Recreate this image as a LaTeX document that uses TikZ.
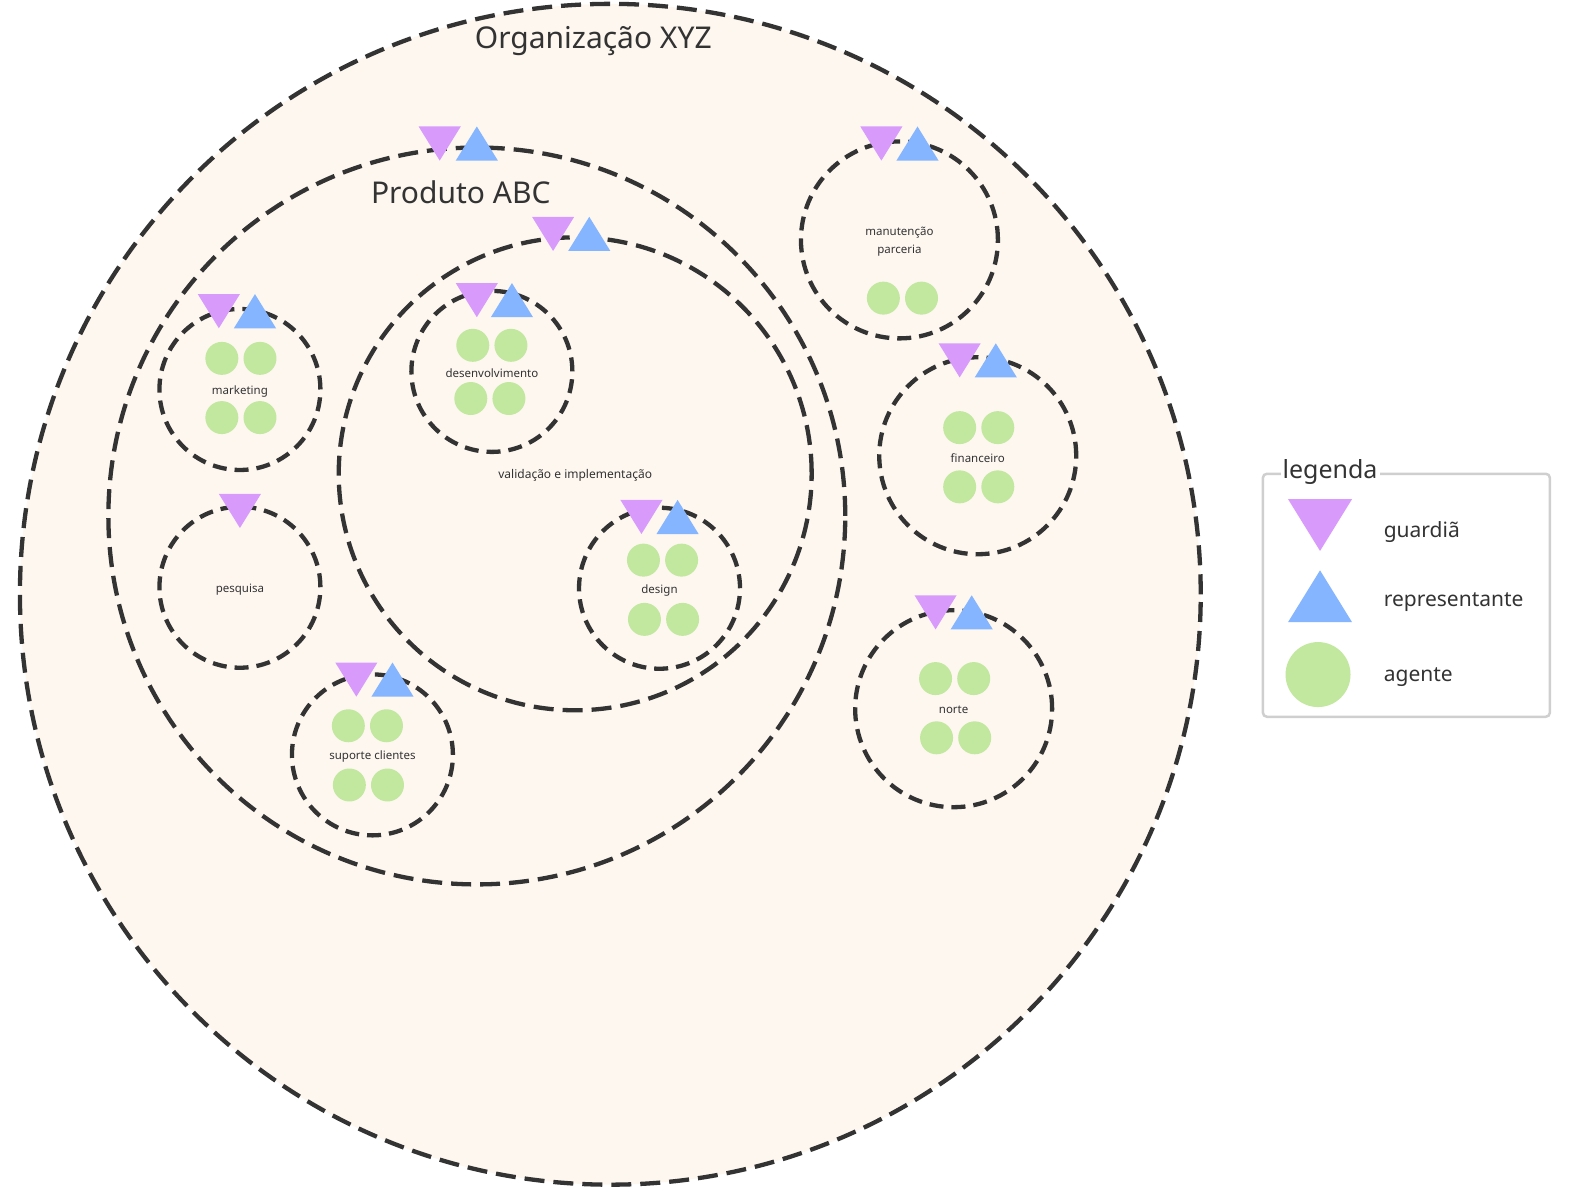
\documentclass[tikz,border=0pt]{standalone}
\usepackage{fontspec}
\setmainfont{Noto Sans}
\usetikzlibrary{positioning}
\definecolor{linec}{HTML}{333333}
\definecolor{bgc}{HTML}{FDF7F0}
\definecolor{guardc}{HTML}{D89BFC}
\definecolor{repc}{HTML}{85B5FF}
\definecolor{agc}{HTML}{C2E89F}
\definecolor{legc}{HTML}{CFCFCF}

\begin{document}
\begin{tikzpicture}[x=1.004pt, y=-1.004pt,
  grp/.style={circle, draw=linec, line width=4.3pt, dash pattern=on 14pt off 8pt,
              inner sep=0pt, text=linec, font=\fontsize{11.5}{18}\selectfont, align=center},
  big/.style={dash pattern=on 20pt off 9pt},
  ag/.style={circle, fill=agc, minimum size=33pt, inner sep=0pt},
  ttl/.style={text=linec, font=\fontsize{30}{34}\selectfont},
  lbl/.style={text=linec, font=\fontsize{11.5}{18}\selectfont, align=center},
  legtxt/.style={text=linec, font=\fontsize{21}{25}\selectfont, anchor=west},
  guard/.pic={\fill[guardc] (-21,-17) -- (21,-17) -- (0,17) -- cycle;},
  rep/.pic={\fill[repc] (-21,17) -- (21,17) -- (0,-17) -- cycle;}]
  \useasboundingbox (0,0) rectangle (1568,1184);
  % organisation and product
  \node[grp, big, fill=bgc, minimum size=1181pt] (org) at (608,592) {};
  \node[ttl] (orgt) at (591,41) {Organização XYZ};
  \node[grp, big, minimum size=737pt] (prod) at (475,514) {};
  \node[ttl] (prodt) at (459,192) {Produto ABC};
  \node[grp, big, minimum size=473pt] (val) at (573,472) {};
  \node[lbl, font=\fontsize{12}{14}\selectfont] (valt) at (573,474) {validação e implementação};
  % small groups
  \node[grp, minimum size=161pt] (dev) at (490,370) {};
  \node[grp, minimum size=161pt] (mkt) at (239,388) {};
  \node[grp, minimum size=161pt] (pesq) at (239,585) {};
  \node[grp, minimum size=161pt] (sup) at (371,752) {};
  \node[grp, minimum size=161pt] (des) at (657,586) {};
  \node[grp, minimum size=197pt] (man) at (896,239) {};
  \node[grp, minimum size=197pt] (fin) at (974,454) {};
  \node[grp, minimum size=197pt] (nor) at (950,706) {};
  \node[lbl] (devt) at (490,372) {desenvolvimento};
  \node[lbl] (mktt) at (239,390) {marketing};
  \node[lbl] (pesqt) at (239,587) {pesquisa};
  \node[lbl] (supt) at (371,754) {suporte clientes};
  \node[lbl] (dest) at (657,588) {design};
  \node[lbl] (mant) at (896,241) {manutenção\\parceria};
  \node[lbl] (fint) at (974,456) {financeiro};
  \node[lbl] (nort) at (950,707) {norte};
  % guardians and representatives
  \pic (prodg) at (438,143) {guard};  \pic (prodr) at (475,143) {rep};
  \pic (valg) at (551,233) {guard};   \pic (valr) at (587,233) {rep};
  \pic (devg) at (475,299) {guard};   \pic (devr) at (510,299) {rep};
  \pic (mktg) at (218,310) {guard};   \pic (mktr) at (254,310) {rep};
  \pic (pesqg) at (239,509) {guard};
  \pic (supg) at (355,677) {guard};   \pic (supr) at (391,677) {rep};
  \pic (desg) at (639,515) {guard};   \pic (desr) at (675,515) {rep};
  \pic (mang) at (878,143) {guard};   \pic (manr) at (914,143) {rep};
  \pic (fing) at (956,359) {guard};   \pic (finr) at (992,359) {rep};
  \pic (norg) at (932,610) {guard};   \pic (norr) at (968,610) {rep};
  % agents
  \node[ag] (dev1) at (471,344) {};  \node[ag] (dev2) at (509,344) {};
  \node[ag] (dev3) at (469,397) {};  \node[ag] (dev4) at (507,397) {};
  \node[ag] (mkt1) at (221,357) {};  \node[ag] (mkt2) at (259,357) {};
  \node[ag] (mkt3) at (221,416) {};  \node[ag] (mkt4) at (259,416) {};
  \node[ag] (sup1) at (347,723) {};  \node[ag] (sup2) at (385,723) {};
  \node[ag] (sup3) at (348,782) {};  \node[ag] (sup4) at (386,782) {};
  \node[ag] (des1) at (641,558) {};  \node[ag] (des2) at (679,558) {};
  \node[ag] (des3) at (642,617) {};  \node[ag] (des4) at (680,617) {};
  \node[ag] (man1) at (880,297) {};  \node[ag] (man2) at (918,297) {};
  \node[ag] (fin1) at (956,426) {};  \node[ag] (fin2) at (994,426) {};
  \node[ag] (fin3) at (956,485) {};  \node[ag] (fin4) at (994,485) {};
  \node[ag] (nor1) at (932,676) {};  \node[ag] (nor2) at (970,676) {};
  \node[ag] (nor3) at (933,735) {};  \node[ag] (nor4) at (971,735) {};
  % legend
  \node[draw=legc, fill=white, line width=2.5pt, rounded corners=4pt,
        minimum width=287pt, minimum height=243pt] (leg) at (1401,593) {};
  \node[fill=white, inner sep=2pt, text=linec, font=\fontsize{25}{28}\selectfont] (legt) at (1325,470) {legenda};
  \pic[scale=1.52] (legg) at (1315,523) {guard};
  \pic[scale=1.52] (legr) at (1315,594) {rep};
  \node[ag, minimum size=65pt] (lega) at (1313,672) {};
  \node[legtxt] (lgt) at (1375,530) {guardiã};
  \node[legtxt] (lrt) at (1375,600) {representante};
  \node[legtxt] (lat) at (1375,675) {agente};
\end{tikzpicture}
\end{document}
